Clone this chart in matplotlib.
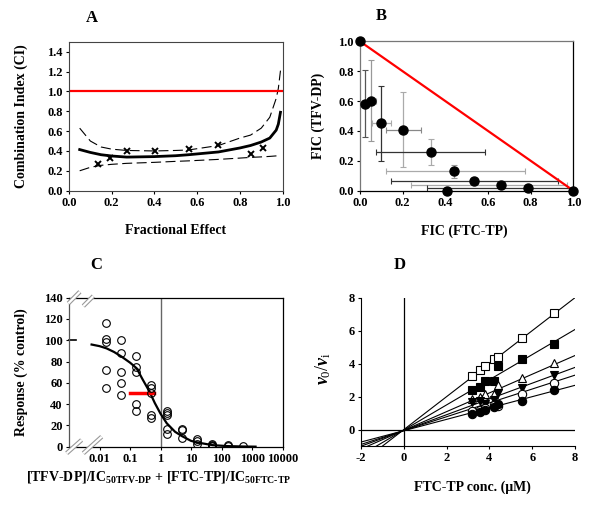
import numpy as np
import matplotlib
matplotlib.use('Agg')
import matplotlib.pyplot as plt
from matplotlib.ticker import FixedLocator, FixedFormatter, NullLocator

plt.rcParams['font.family'] = ['Liberation Serif', 'DejaVu Serif']
plt.rcParams['font.weight'] = 'bold'
plt.rcParams['axes.unicode_minus'] = False
plt.rcParams['mathtext.fontset'] = 'custom'
plt.rcParams['mathtext.rm'] = 'Liberation Serif:bold'
plt.rcParams['mathtext.it'] = 'Liberation Serif:italic:bold'
plt.rcParams['mathtext.bf'] = 'Liberation Serif:bold'
plt.rcParams['mathtext.default'] = 'regular'

# ---------------- Panel A data ----------------
a_fa_pts = [0.137, 0.192, 0.27, 0.404, 0.562, 0.696, 0.852, 0.91]
a_ci_pts = [0.27, 0.33, 0.40, 0.40, 0.42, 0.46, 0.37, 0.43]
a_curve_fa = [0.05, 0.1, 0.15, 0.2, 0.27, 0.4, 0.5, 0.56, 0.7, 0.8, 0.85, 0.9, 0.94, 0.97, 0.98, 0.99]
a_ci_fit = [0.414, 0.385, 0.362, 0.349, 0.338, 0.343, 0.352, 0.362, 0.39, 0.43, 0.455, 0.49, 0.53, 0.61, 0.67, 0.79]
a_ci_upper = [0.63, 0.50, 0.44, 0.418, 0.405, 0.40, 0.405, 0.41, 0.455, 0.53, 0.56, 0.63, 0.74, 0.93, 1.03, 1.21]
a_ci_lower = [0.20, 0.235, 0.255, 0.265, 0.275, 0.285, 0.295, 0.30, 0.315, 0.328, 0.335, 0.34, 0.345, 0.35, 0.352, 0.355]
a_additive = 1.0

# ---------------- Panel B data ----------------
b_fic_ftc = [0.0, 0.023, 0.052, 0.098, 0.203, 0.333, 0.442, 0.536, 0.661, 0.786, 0.406, 1.0]
b_fic_tfv = [1.0, 0.583, 0.601, 0.45, 0.405, 0.258, 0.129, 0.065, 0.036, 0.016, 0.0, 0.0]
b_x_lo = [0.0, 0.023, 0.035, 0.055, 0.12, 0.075, 0.12, 0.144, 0.238, 0.312, 0.406, 1.0]
b_x_hi = [0.0, 0.023, 0.075, 0.144, 0.284, 0.586, 0.773, 0.93, 0.97, 1.0, 0.406, 1.0]
b_y_lo = [1.0, 0.36, 0.332, 0.198, 0.156, 0.171, 0.085, 0.065, 0.036, 0.016, 0.0, 0.0]
b_y_hi = [1.0, 0.81, 0.873, 0.70, 0.661, 0.343, 0.171, 0.065, 0.036, 0.016, 0.0, 0.0]
b_xerr_color = ['#888', '#888', '#999', '#aaa', '#888', '#333', '#aaa', '#333', '#aaa', '#333', '#888', '#888']
b_yerr_color = ['#888', '#555', '#999', '#333', '#aaa', '#aaa', '#999', '#888', '#888', '#888', '#888', '#888']

# ---------------- Panel C data ----------------
c_x = [0.016]*5 + [0.05]*5 + [0.16]*5 + [0.5]*5 + [1.6]*5 + [5]*3 + [16]*3 + [50]*4 + [160]*2 + [500]
c_y = [116, 101, 98, 72, 55,
       100, 88, 70, 60, 49,
       85, 75, 70, 40, 34,
       58, 55, 50, 30, 27,
       34, 32, 30, 17, 12,
       17, 16, 8,
       7, 5, 3,
       3, 2, 1, 0.5,
       1.5, 0.8,
       0.3]
c_fit_x = [0.0055, 0.01, 0.017, 0.03, 0.053, 0.1, 0.165, 0.25, 0.43, 0.65, 1.0, 1.6, 3, 5, 10, 16, 50, 150, 500, 1300]
c_fit_y = [96, 94.5, 92.4, 89, 84.6, 79, 73.7, 64, 52, 41, 31, 22, 14, 10, 5.5, 4, 1.5, 0.6, 0.2, 0.05]
c_ic50_x = [0.1, 0.62]
c_ic50_y = [50, 50]
c_xticks = [0.01, 0.1, 1, 10, 100, 1000, 10000]
c_xticklabels = ['0.01', '0.1', '1', '10', '100', '1000', '10000']

# ---------------- Panel D data ----------------
d_conc = [3.19, 3.54, 3.8, 4.2, 4.41, 5.53, 7.04]
d_open_sq = [3.26, 3.6, 3.87, 4.27, 4.41, 5.57, 7.1]
d_fill_sq = [2.43, 2.59, 2.96, 2.94, 3.85, 4.29, 5.22]
d_open_tri = [1.88, 1.98, 2.15, 2.19, 2.69, 3.14, 4.05]
d_fill_itri = [1.68, 1.74, 1.58, 1.82, 2.23, 2.53, 3.3]
d_open_circ = [1.11, 1.21, 1.34, 1.48, 1.42, 2.15, 2.85]
d_fill_circ = [0.97, 1.05, 1.17, 1.38, 1.54, 1.74, 2.39]
d_slopes = [1.0, 0.762, 0.567, 0.478, 0.42, 0.344]
d_intercepts = [0.0, -0.024, -0.043, -0.052, -0.058, -0.066]

fig = plt.figure(figsize=(6, 5.11), dpi=100)

TICKFS = 9
LABFS = 10

def style(ax):
    ax.tick_params(direction='out', length=2.5, width=0.8, labelsize=TICKFS, pad=2)
    for lab in ax.get_xticklabels() + ax.get_yticklabels():
        lab.set_fontweight('bold')

# ---- Panel A ----
axA = fig.add_axes([0.115, 0.627, 0.356, 0.291])
axA.plot(a_curve_fa, a_ci_fit, color='black', lw=2.0)
axA.plot(a_curve_fa, a_ci_upper, color='black', lw=0.8, dashes=(9, 4))
axA.plot(a_curve_fa, a_ci_lower, color='black', lw=0.8, dashes=(9, 4))
axA.axhline(a_additive, color='red', lw=1.6)
axA.plot(a_fa_pts, a_ci_pts, 'x', color='black', ms=5, mew=1.4)
axA.set_xlim(0, 1.0)
axA.set_ylim(0, 1.5)
axA.set_xticks([0, 0.2, 0.4, 0.6, 0.8, 1.0])
axA.set_xticklabels(['0.0', '0.2', '0.4', '0.6', '0.8', '1.0'])
axA.set_yticks([0, 0.2, 0.4, 0.6, 0.8, 1.0, 1.2, 1.4])
axA.set_yticklabels(['0.0', '0.2', '0.4', '0.6', '0.8', '1.0', '1.2', '1.4'])
for s in axA.spines.values():
    s.set_color('#444')
    s.set_linewidth(0.8)
axA.set_xlabel('Fractional Effect', fontsize=LABFS, fontweight='bold')
axA.set_ylabel('Combination Index (CI)', fontsize=LABFS, fontweight='bold')
axA.xaxis.set_label_coords(0.5, -0.225)
axA.yaxis.set_label_coords(-0.19, 0.5)
style(axA)

# ---- Panel B ----
axB = fig.add_axes([0.6, 0.627, 0.3555, 0.292])
axB.plot([0, 1], [1, 0], color='red', lw=1.6, zorder=2)
for i in range(len(b_fic_ftc)):
    x, y = b_fic_ftc[i], b_fic_tfv[i]
    xe = [[x - b_x_lo[i]], [b_x_hi[i] - x]]
    ye = [[y - b_y_lo[i]], [b_y_hi[i] - y]]
    if b_x_hi[i] - b_x_lo[i] > 0:
        axB.errorbar([x], [y], xerr=xe, fmt='none', ecolor=b_xerr_color[i], elinewidth=0.9, capsize=2, capthick=0.8, zorder=1)
    if b_y_hi[i] - b_y_lo[i] > 0:
        axB.errorbar([x], [y], yerr=ye, fmt='none', ecolor=b_yerr_color[i], elinewidth=0.9, capsize=2, capthick=0.8, zorder=1)
axB.plot(b_fic_ftc, b_fic_tfv, 'o', color='black', ms=6.5, zorder=3, clip_on=False)
axB.set_xlim(0, 1.0)
axB.set_ylim(0, 1.0)
axB.set_xticks([0, 0.2, 0.4, 0.6, 0.8, 1.0])
axB.set_xticklabels(['0.0', '0.2', '0.4', '0.6', '0.8', '1.0'])
axB.set_yticks([0, 0.2, 0.4, 0.6, 0.8, 1.0])
axB.set_yticklabels(['0.0', '0.2', '0.4', '0.6', '0.8', '1.0'])
axB.spines['top'].set_color('#777')
axB.spines['left'].set_color('#777')
for s in axB.spines.values():
    s.set_linewidth(0.9)
axB.set_xlabel('FIC (FTC-TP)', fontsize=LABFS, fontweight='bold')
axB.set_ylabel('FIC (TFV-DP)', fontsize=LABFS, fontweight='bold')
axB.xaxis.set_label_coords(0.49, -0.225)
axB.yaxis.set_label_coords(-0.165, 0.5)
style(axB)

# ---- Panel C ----
axC = fig.add_axes([0.115, 0.1258, 0.356, 0.2916])
axC.set_xscale('log')
axC.axvline(1, color='#666', lw=1.0)
axC.plot(c_fit_x, c_fit_y, color='black', lw=1.6)
axC.plot(c_ic50_x, c_ic50_y, color='red', lw=2.5)
axC.plot(c_x, c_y, 'o', mfc='none', mec='black', ms=5.5, mew=0.8)
axC.set_xlim(1e-3, 1e4)
axC.set_ylim(0, 140)
axC.xaxis.set_major_locator(FixedLocator(c_xticks))
axC.xaxis.set_major_formatter(FixedFormatter(c_xticklabels))
axC.xaxis.set_minor_locator(NullLocator())
axC.set_yticks(list(range(0, 141, 20)))
for s in axC.spines.values():
    s.set_linewidth(0.9)
axC.spines['left'].set_color('#555')
axC.set_xlabel(r'[TFV-DP]/IC$_{50TFV\text{-}DP}$ + [FTC-TP]/IC$_{50FTC\text{-}TP}$', fontsize=LABFS, fontweight='bold')
axC.set_ylabel('Response (% control)', fontsize=LABFS, fontweight='bold')
axC.xaxis.set_label_coords(0.42, -0.15)
axC.yaxis.set_label_coords(-0.19, 0.5)
style(axC)
# axis-break marks and control mark
for (x0, y0, x1, y1) in [(-0.003, 0.962, 0.051, 1.04), (0.067, 0.944, 0.114, 1.011),
                         (-0.011, -0.044, 0.059, 0.045), (0.067, -0.044, 0.153, 0.067)]:
    axC.plot([x0, x1], [y0, y1], transform=axC.transAxes, color='#999', lw=3.2, clip_on=False, solid_capstyle='butt', zorder=5)
    axC.plot([x0, x1], [y0, y1], transform=axC.transAxes, color='white', lw=1.6, clip_on=False, solid_capstyle='butt', zorder=6)
axC.plot([0, 0.035], [100 / 140, 100 / 140], transform=axC.transAxes, color='black', lw=1.2, clip_on=False)

# ---- Panel D ----
axD = fig.add_axes([0.6017, 0.127, 0.3566, 0.2904])
axD.axvline(0, color='black', lw=0.9)
axD.axhline(0, color='black', lw=0.9)
xl = np.array([-2.0, 8.0])
for m, b in zip(d_slopes, d_intercepts):
    axD.plot(xl, m * xl + b, color='black', lw=0.8)
mk = dict(ms=6, mew=0.8, mec='black', ls='none', clip_on=False, zorder=4)
axD.plot(d_conc, d_open_sq, 's', mfc='white', **mk)
axD.plot(d_conc, d_fill_sq, 's', mfc='black', **mk)
axD.plot(d_conc, d_open_tri, '^', mfc='white', **mk)
axD.plot(d_conc, d_fill_itri, 'v', mfc='black', **mk)
axD.plot(d_conc, d_open_circ, 'o', mfc='white', **mk)
axD.plot(d_conc, d_fill_circ, 'o', mfc='black', **mk)
axD.set_xlim(-2, 8)
axD.set_ylim(-1, 8)
axD.set_xticks([-2, 0, 2, 4, 6, 8])
axD.set_yticks([0, 2, 4, 6, 8])
axD.spines['top'].set_visible(False)
axD.spines['right'].set_visible(False)
axD.set_xlabel('FTC-TP conc. (\u03bcM)', fontsize=LABFS, fontweight='bold')
axD.set_ylabel(r'$\mathit{v}_{0}/\mathit{v}_{i}$', fontsize=13)
axD.xaxis.set_label_coords(0.523, -0.229)
axD.yaxis.set_label_coords(-0.131, 0.526)
style(axD)

# panel letters
for txt, x, y in [('A', 0.153, 0.964), ('B', 0.635, 0.969), ('C', 0.161, 0.481), ('D', 0.667, 0.481)]:
    fig.text(x, y, txt, fontsize=12, fontweight='bold', ha='center', va='center')

fig.savefig('out.png', dpi=100)
